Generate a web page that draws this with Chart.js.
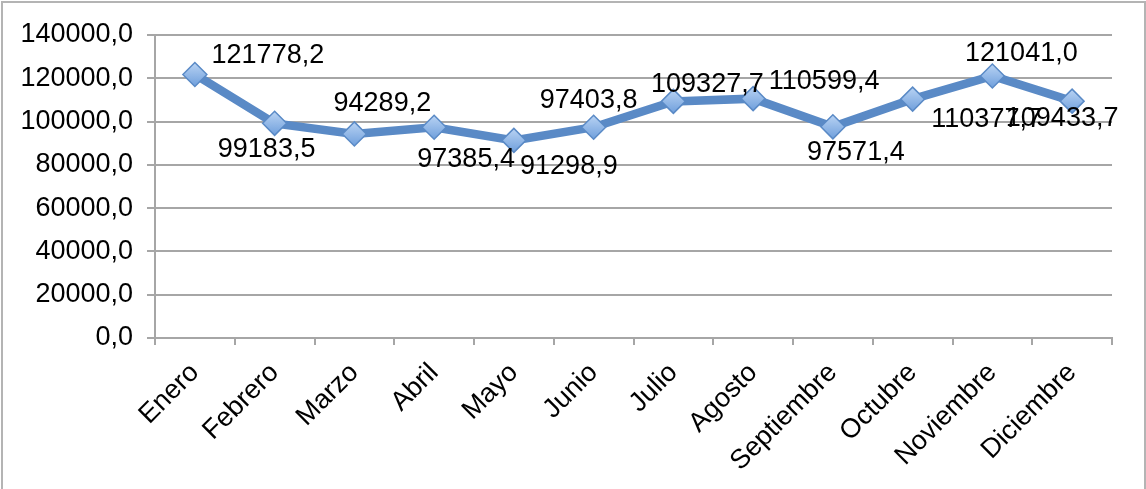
<!DOCTYPE html>
<html>
<head>
<meta charset="utf-8">
<script src="https://cdn.jsdelivr.net/npm/chart.js@4.4.1/dist/chart.umd.min.js"></script>
<style>
  html, body { margin: 0; padding: 0; background: #ffffff; }
  #wrap { position: relative; width: 1146px; height: 489px; }
  canvas { display: block; }
</style>
</head>
<body>
<div id="wrap"><canvas id="chart" width="1146" height="489"></canvas></div>
<script>
// Monthly series
const months = ['Enero', 'Febrero', 'Marzo', 'Abril', 'Mayo', 'Junio', 'Julio', 'Agosto', 'Septiembre', 'Octubre', 'Noviembre', 'Diciembre'];
const values = [121778.2, 99183.5, 94289.2, 97385.4, 91298.9, 97403.8, 109327.7, 110599.4, 97571.4, 110377.7, 121041.0, 109433.7];
const yTicks = [0, 20000, 40000, 60000, 80000, 100000, 120000, 140000];

// Value label placement relative to each point (dx, dy in px)
const labelOffsets = [
  [73, -19], [-8, 26], [28, -30], [32, 32], [55, 26], [-5, -27],
  [34, -17], [71, -17], [23, 26], [74, 20], [29, -22], [-10, 17]
];

const fmt = v => v.toFixed(1).replace('.', ',');
const FONT = '"Liberation Sans", Arial, sans-serif';

const frame = {
  id: 'frame',
  beforeDraw(chart) {
    const c = chart.ctx;
    c.save();
    c.fillStyle = '#ffffff';
    c.fillRect(0, 0, chart.width, chart.height);
    c.strokeStyle = '#b4b4b4';
    c.lineWidth = 2;
    c.strokeRect(2, 2, 1143, 500);
    c.restore();
  }
};

const valueLabels = {
  id: 'valueLabels',
  afterDatasetsDraw(chart) {
    const c = chart.ctx;
    const meta = chart.getDatasetMeta(0);
    c.save();
    c.font = '27px ' + FONT;
    c.fillStyle = '#000000';
    c.textAlign = 'center';
    c.textBaseline = 'middle';
    meta.data.forEach((pt, i) => {
      const [dx, dy] = labelOffsets[i];
      c.fillText(fmt(values[i]), pt.x + dx, pt.y + dy);
    });
    c.restore();
  }
};

const ctx = document.getElementById('chart').getContext('2d');

new Chart(ctx, {
  type: 'line',
  data: {
    labels: months,
    datasets: [{
      data: values,
      borderColor: '#5a8ac6',
      borderWidth: 8.5,
      tension: 0,
      pointStyle: 'rectRot',
      pointRadius: 12,
      pointHoverRadius: 12,
      pointBackgroundColor: function(context) {
        const el = context.element;
        if (!el || el.y === undefined || isNaN(el.y)) return '#8db4e6';
        const g = context.chart.ctx.createLinearGradient(el.x, el.y - 12, el.x, el.y + 12);
        g.addColorStop(0, '#b9d3f3');
        g.addColorStop(1, '#6f9fdc');
        return g;
      },
      pointBorderColor: '#5a8ac6',
      pointBorderWidth: 1.5
    }]
  },
  options: {
    responsive: false,
    animation: false,
    layout: { padding: { left: 0, right: 34, top: 35, bottom: 0 } },
    plugins: {
      legend: { display: false },
      tooltip: { enabled: false }
    },
    scales: {
      x: {
        offset: true,
        afterFit(scale) { scale.height = 151; },
        grid: {
          offset: true,
          drawOnChartArea: false,
          drawTicks: true,
          tickLength: 7,
          color: '#a6a6a6',
          lineWidth: 2
        },
        border: { color: '#a6a6a6', width: 2 },
        ticks: {
          maxRotation: 45,
          minRotation: 45,
          padding: 12,
          autoSkip: false,
          color: '#000000',
          font: { family: FONT, size: 27 }
        }
      },
      y: {
        min: 0,
        max: 140000,
        afterFit(scale) { scale.width = 155; },
        afterBuildTicks(axis) { axis.ticks = yTicks.map(v => ({ value: v })); },
        grid: {
          color: '#a6a6a6',
          lineWidth: 2,
          tickLength: 8
        },
        border: { color: '#a6a6a6', width: 2 },
        ticks: {
          padding: 14,
          color: '#000000',
          font: { family: FONT, size: 27 },
          callback: v => fmt(v)
        }
      }
    }
  },
  plugins: [frame, valueLabels]
});
</script>
</body>
</html>
